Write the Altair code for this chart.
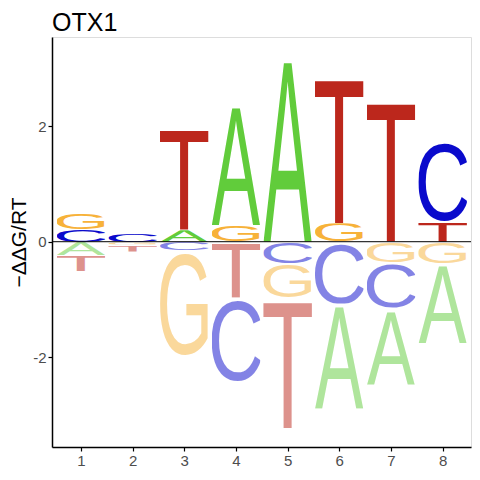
import urllib.parse
import altair as alt
import pandas as pd

positions = [1, 2, 3, 4, 5, 6, 7, 8]
# -DDG/RT per letter at each position
val_A = [-0.23, -0.01, 0.20, 2.10, 3.21, -1.82, -1.32, -1.38]
val_C = [0.21, 0.145, -0.15, -1.44, -0.38, -1.07, -0.79, 1.39]
val_G = [0.27, -0.04, -1.83, 0.29, -0.59, 0.32, -0.36, -0.37]
val_T = [-0.28, -0.12, 1.76, -0.97, -2.25, 2.56, 2.46, 0.35]
y_ticks = [-2, 0, 2]

letter_colors = {"A": "#61CC3B", "C": "#0A0ACC", "G": "#F7B239", "T": "#BC271C"}
# approximate glyph bounding boxes (font units, 2048/em) for Liberation Sans
BBOX = {"A": (-3, 0, 1369, 1466), "C": (102, -25, 1382, 1491),
        "G": (100, -25, 1470, 1491), "T": (50, 0, 1202, 1466)}


def glyph_url(letter):
    x0, y0, x1, y1 = BBOX[letter]
    svg = (f'<svg xmlns="http://www.w3.org/2000/svg" width="100" height="100" '
           f'viewBox="{x0} {-y1} {x1 - x0} {y1 - y0}" preserveAspectRatio="none">'
           f'<text x="0" y="0" font-family="Liberation Sans, Arial, sans-serif" '
           f'font-size="2048" fill="{letter_colors[letter]}">{letter}</text></svg>')
    return "data:image/svg+xml;charset=utf-8," + urllib.parse.quote(svg)


urls = {k: glyph_url(k) for k in "ACGT"}
vals = {"A": val_A, "C": val_C, "G": val_G, "T": val_T}

rows = []
for i, p in enumerate(positions):
    items = [(k, vals[k][i]) for k in "ACGT"]
    pos = sorted([it for it in items if it[1] > 0], key=lambda t: t[1])
    neg = sorted([it for it in items if it[1] < 0], key=lambda t: -t[1])
    base = 0.0
    for k, v in pos:
        rows.append(dict(pos=p, letter=k, lo=base, hi=base + v, sign="pos",
                         x0=p - 0.47, x1=p + 0.47, url=urls[k]))
        base += v
    base = 0.0
    for k, v in neg:
        rows.append(dict(pos=p, letter=k, lo=base + v, hi=base, sign="neg",
                         x0=p - 0.47, x1=p + 0.47, url=urls[k]))
        base += v
df = pd.DataFrame(rows)

xscale = alt.Scale(domain=[0.44, 8.55], nice=False, zero=False)
yscale = alt.Scale(domain=[-3.55, 3.54], nice=False, zero=False)

letters = alt.Chart(df).mark_image(aspect=False).encode(
    x=alt.X("x0:Q", scale=xscale,
            axis=alt.Axis(values=positions, title=None, labelFontSize=15,
                          labelColor="#4D4D4D", tickColor="black", domainColor="black",
                          domainWidth=1.5, tickWidth=1.2, tickSize=4, grid=False,
                          labelPadding=2, labelExpr="datum.value + ''")),
    x2="x1:Q",
    y=alt.Y("hi:Q", scale=yscale,
            axis=alt.Axis(values=y_ticks, title="−ΔΔG/RT", titleFontSize=21,
                          titleFontWeight="normal", titleColor="black",
                          labelFontSize=15, labelColor="#4D4D4D", tickColor="black",
                          domainColor="black", domainWidth=1.5, tickWidth=1.2,
                          tickSize=4, grid=False, titlePadding=3, labelPadding=2,
                          labelExpr="datum.value + ''")),
    y2="lo:Q",
    url="url:N",
    opacity=alt.Opacity("sign:N", scale=alt.Scale(domain=["pos", "neg"], range=[1.0, 0.5]),
                        legend=None),
)

zero = alt.Chart(pd.DataFrame({"y": [0]})).mark_rule(color="black", strokeWidth=1).encode(
    y=alt.Y("y:Q", scale=yscale)
)

chart = alt.layer(letters, zero).properties(
    width=419, height=410,
    title=alt.TitleParams("OTX1", anchor="start", frame="group", fontSize=25,
                          fontWeight="normal", color="black", font="Liberation Sans",
                          offset=1),
).configure_view(stroke=None).configure_axis(
    labelFont="Liberation Sans", titleFont="Liberation Sans"
).configure(padding={"left": 0, "top": 3, "right": 0, "bottom": 0})

chart.save("out.html", embed_options={"renderer": "svg", "actions": False})
